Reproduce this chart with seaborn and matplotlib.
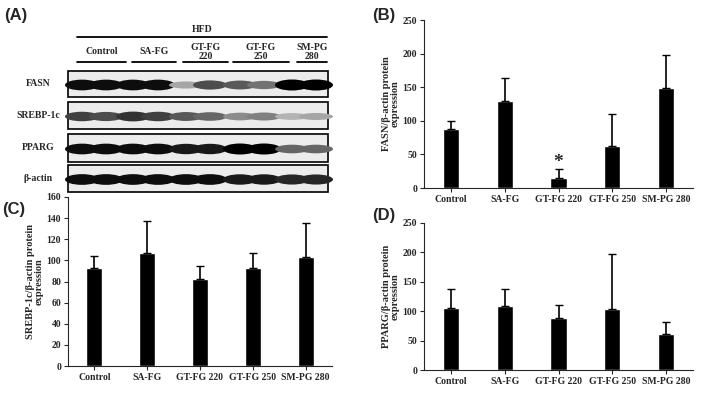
import numpy as np
import matplotlib.pyplot as plt
import seaborn as sns
from matplotlib.patches import Ellipse

# ==============================
# DATA
# ==============================
groups = ["Control", "SA-FG", "GT-FG 220", "GT-FG 250", "SM-PG 280"]
lane_labels = ["Control", "SA-FG", "GT-FG\n220", "GT-FG\n250", "SM-PG\n280"]

fasn_mean = [88, 130, 15, 63, 149]
fasn_err = [12, 33, 13, 47, 49]
srebp_mean = [93, 107, 82, 93, 103]
srebp_err = [11, 30, 13, 14, 32]
pparg_mean = [106, 108, 89, 104, 62]
pparg_err = [31, 30, 21, 93, 20]

proteins = ["FASN", "SREBP-1c", "PPARG", "β-actin"]
# band darkness per lane (two bands per lane)
band_dark = {
    "FASN": [0.95, 0.95, 0.95, 0.95, 0.35, 0.7, 0.65, 0.55, 1.0, 1.0],
    "SREBP-1c": [0.75, 0.7, 0.8, 0.75, 0.65, 0.6, 0.45, 0.5, 0.3, 0.35],
    "PPARG": [0.95, 0.95, 0.95, 0.95, 0.9, 0.9, 1.0, 1.0, 0.6, 0.6],
    "β-actin": [0.95, 0.95, 0.95, 0.95, 0.95, 0.95, 0.9, 0.9, 0.85, 0.85],
}

sns.set_style("white")
plt.rcParams["font.family"] = "Liberation Serif"
plt.rcParams["font.weight"] = "bold"

fig = plt.figure(figsize=(7.03, 4.13), dpi=100)
W, H = 703, 413

def ax_px(x0, y0, x1, y1):
    return fig.add_axes([x0 / W, 1 - y1 / H, (x1 - x0) / W, (y1 - y0) / H])

# ---- (A) blot
axA = ax_px(0, 0, 335, 205)
axA.set_xlim(0, 335)
axA.set_ylim(205, 0)
axA.axis("off")
fig.text(4 / W, 1 - 20 / H, "(A)", fontsize=12, fontweight="bold", family="Liberation Sans")

lane_x = [(77, 126), (132, 176), (183, 228), (233, 289), (297, 327)]
axA.plot([77, 327], [37, 37], color="black", lw=1.3)
axA.text(202, 29, "HFD", ha="center", va="center", fontsize=7)
for (a, b), lab in zip(lane_x, lane_labels):
    axA.plot([a, b], [62, 62], color="black", lw=1.3)
    axA.text((a + b) / 2, 52, lab, ha="center", va="center", fontsize=7, linespacing=1.0)

rows = [(71, 97), (102, 129), (134, 162), (165, 192)]
band_cx = [82, 106, 133, 158, 186, 210, 240, 264, 292, 316]
for (y0, y1), prot in zip(rows, proteins):
    axA.add_patch(plt.Rectangle((68, y0), 260, y1 - y0, fill=True, fc="#ececec",
                                ec="black", lw=1.2, zorder=1))
    axA.text(38, (y0 + y1) / 2, prot, ha="center", va="center", fontsize=7)
    for cx, d in zip(band_cx, band_dark[prot]):
        g = 1 - d
        axA.add_patch(Ellipse((cx, (y0 + y1) / 2 + 1), 34, 5 + 6 * d,
                              color=(g, g, g), lw=0, zorder=2))

def bar_panel(rect, mean, err, ymax, step, ylabel, tag, tagpos):
    ax = ax_px(*rect)
    sns.barplot(x=groups, y=mean, color="black", width=0.3, ax=ax, saturation=1)
    ax.errorbar(np.arange(len(groups)), mean, yerr=[np.zeros(len(err)), err],
                fmt="none", ecolor="black", elinewidth=1.2, capsize=3)
    ax.set_ylim(0, ymax)
    ax.set_yticks(np.arange(0, ymax + 1, step))
    ax.set_xlim(-0.5, 4.5)
    sns.despine(ax=ax)
    ax.tick_params(axis="both", labelsize=7, length=3, pad=2, direction="out",
                   left=True, bottom=True)
    for t in ax.get_xticklabels() + ax.get_yticklabels():
        t.set_fontweight("bold")
    ax.set_ylabel(ylabel, fontsize=7.5, fontweight="bold", linespacing=1.0, labelpad=2)
    fig.text(tagpos[0] / W, 1 - tagpos[1] / H, tag, fontsize=12, fontweight="bold",
             family="Liberation Sans")
    return ax

axB = bar_panel((424, 20, 693, 188), fasn_mean, fasn_err, 250, 50,
                "FASN/β-actin protein\nexpression", "(B)", (372, 20))
axB.text(2, fasn_mean[2] + fasn_err[2] - 2, "*", ha="center", va="bottom", fontsize=14)
bar_panel((68, 197, 332, 366), srebp_mean, srebp_err, 160, 20,
          "SREBP-1c/β-actin protein\nexpression", "(C)", (2, 214))
bar_panel((424, 223, 693, 370), pparg_mean, pparg_err, 250, 50,
          "PPARG/β-actin protein\nexpression", "(D)", (372, 220))

plt.savefig("out.png", dpi=100)
